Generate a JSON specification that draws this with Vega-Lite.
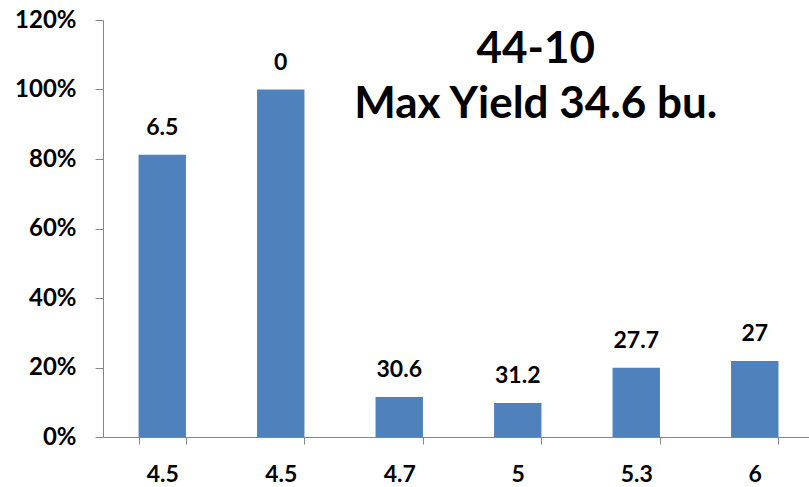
{
  "$schema": "https://vega.github.io/schema/vega-lite/v6.json",
  "width": 711,
  "height": 417,
  "padding": {"left": 103, "top": 20, "right": 0, "bottom": 50},
  "autosize": {"type": "none"},
  "background": "white",
  "config": {"view": {"stroke": null}, "font": "Lato"},
  "data": {
    "values": [
      {"i": 1, "ph": "4.5", "pct": 81.2, "yield": "6.5"},
      {"i": 2, "ph": "4.5", "pct": 100, "yield": "0"},
      {"i": 3, "ph": "4.7", "pct": 11.5, "yield": "30.6"},
      {"i": 4, "ph": "5", "pct": 9.8, "yield": "31.2"},
      {"i": 5, "ph": "5.3", "pct": 19.9, "yield": "27.7"},
      {"i": 6, "ph": "6", "pct": 21.9, "yield": "27"}
    ]
  },
  "encoding": {
    "x": {
      "field": "i",
      "type": "ordinal",
      "scale": {"paddingInner": 0.6, "paddingOuter": 0.3},
      "axis": {
        "title": null,
        "labelAngle": 0,
        "labelExpr": "['4.5','4.5','4.7','5','5.3','6'][datum.value-1]",
        "tickBand": "extent",
        "domainColor": "#868686",
        "tickColor": "#868686",
        "tickSize": 7,
        "labelFontSize": 23,
        "labelFontWeight": "bold",
        "labelColor": "#000000",
        "labelPadding": 19
      }
    }
  },
  "layer": [
    {
      "mark": {"type": "bar", "color": "#4F81BD"},
      "encoding": {
        "y": {
          "field": "pct",
          "type": "quantitative",
          "scale": {"domain": [0, 120]},
          "axis": {
            "title": null,
            "values": [0, 20, 40, 60, 80, 100, 120],
            "labelExpr": "datum.value + '%'",
            "grid": false,
            "domainColor": "#868686",
            "tickColor": "#868686",
            "tickSize": 8,
            "labelFontSize": 24,
            "labelFontWeight": "bold",
            "labelColor": "#000000",
            "labelPadding": 19
          }
        }
      }
    },
    {
      "mark": {"type": "text", "fontSize": 23, "fontWeight": "bold", "color": "#000000", "baseline": "alphabetic", "dy": -20},
      "encoding": {
        "y": {"field": "pct", "type": "quantitative"},
        "text": {"field": "yield"}
      }
    },
    {
      "data": {"values": [{"line": "44-10", "i": 4, "pos": 107.6}, {"line": "Max Yield 34.6 bu.", "i": 4, "pos": 91.8}]},
      "mark": {"type": "text", "fontSize": 44, "fontWeight": "bold", "color": "#000000", "baseline": "alphabetic", "dx": 18},
      "encoding": {
        "y": {"field": "pos", "type": "quantitative"},
        "text": {"field": "line"}
      }
    }
  ]
}
